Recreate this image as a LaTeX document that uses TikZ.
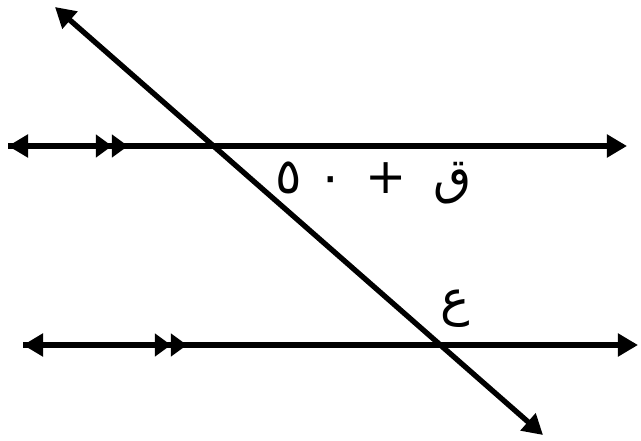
\documentclass[tikz,border=0pt]{standalone}
\usepackage{fontspec}
\TeXXeTstate=1
\newfontfamily\arabicfont[Script=Arabic]{DejaVu Sans}
\usetikzlibrary{arrows.meta}

\begin{document}
\begin{tikzpicture}[
  x=0.025cm, y=-0.025cm,
  ln/.style={line width=3.8pt, {Triangle[length=5mm, width=5.5mm]}-{Triangle[length=5mm, width=5.5mm]}},
  par/.style={line width=3.8pt, -{Triangle[length=4mm, width=5.5mm, sep=0pt] Triangle[length=4mm, width=5.5mm]}},
  lbl/.style={font=\fontsize{35}{40}\selectfont\arabicfont, inner sep=0pt}
]
\useasboundingbox (0,0) rectangle (641,441);

% end points of the two parallel lines
\coordinate (aL) at (8,146);
\coordinate (aR) at (627,146);
\coordinate (aM) at (128,146);
\coordinate (bL) at (23,345);
\coordinate (bR) at (638,345);
\coordinate (bM) at (187,345);

% end points of the transversal
\coordinate (tT) at (55,7);
\coordinate (tB) at (543,435);

% lines
\draw[ln] (aL) -- (aR);
\draw[ln] (bL) -- (bR);
\draw[ln] (tT) -- (tB);

% parallel marks
\draw[par] (aL) -- (aM);
\draw[par] (bL) -- (bM);

% angle labels
\node[lbl] (angA) at (374,183) {\beginR ق\hspace{0.55em}+\hspace{0.45em}\beginL٥\hspace{0.3em}٠\endL\endR};
\node[lbl] (angB) at (455,309) {ع};

\end{tikzpicture}
\end{document}
